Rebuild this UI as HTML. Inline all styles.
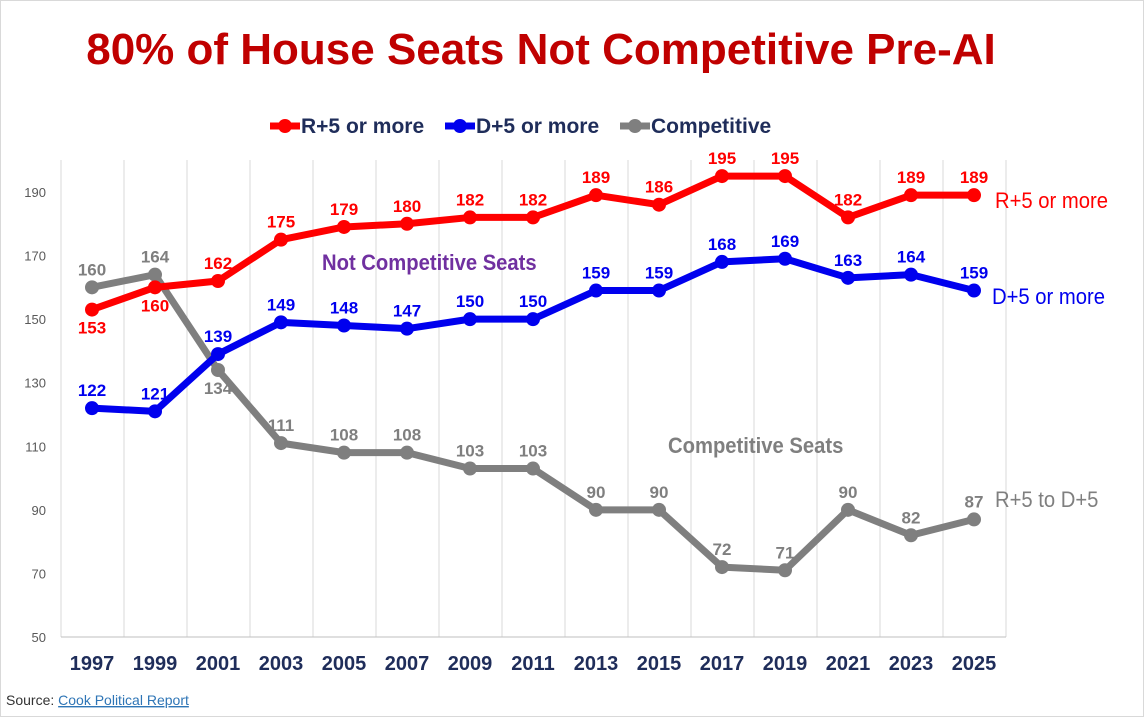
<!DOCTYPE html>
<html><head><meta charset="utf-8"><style>
body{margin:0;background:#fff;}
svg text{font-family:"Liberation Sans Narrow","Liberation Sans",sans-serif;}
.cond{transform-box:fill-box;transform-origin:left center;transform:scaleX(0.92);}
</style></head><body>
<svg id="c" width="1144" height="717" xmlns="http://www.w3.org/2000/svg">
<rect x="0.5" y="0.5" width="1143" height="716" fill="#fff" stroke="#d9d9d9"/>
<text x="541" y="64" text-anchor="middle" font-size="44" font-weight="bold" fill="#c00000" style="font-family:'Liberation Sans',sans-serif">80% of House Seats Not Competitive Pre-AI</text>
<g id="legend"></g>
<g id="grid"></g><g id="plot"></g>
<text x="6" y="705" font-size="14" fill="#333">Source: <tspan fill="#2e75b6" text-decoration="underline">Cook Political Report</tspan></text>
</svg>
<script>
const years=["1997","1999","2001","2003","2005","2007","2009","2011","2013","2015","2017","2019","2021","2023","2025"];
const rVals=[153,160,162,175,179,180,182,182,189,186,195,195,182,189,189];
const dVals=[122,121,139,149,148,147,150,150,159,159,168,169,163,164,159];
const cVals=[160,164,134,111,108,108,103,103,90,90,72,71,90,82,87];
const yTicks=[50,70,90,110,130,150,170,190];
const ns="http://www.w3.org/2000/svg";
const X=i=>92+i*63;
const Y=v=>637-(v-50)*(445/140);
function mk(t,a,p){const e=document.createElementNS(ns,t);for(const k in a)e.setAttribute(k,a[k]);p.appendChild(e);return e;}
const g=document.getElementById('grid'),p=document.getElementById('plot'),lg=document.getElementById('legend');
for(let i=0;i<=years.length;i++){const l=mk('line',{x1:61+i*63,x2:61+i*63,y1:160,y2:637,stroke:'#d9d9d9'},g);

}
const ax=mk('line',{x1:61,x2:1006,y1:637,y2:637,stroke:'#bfbfbf'},g);


yTicks.forEach(v=>{const t=mk('text',{x:46,y:Y(v)+5,'text-anchor':'end','font-size':13,fill:'#595959'},g);t.textContent=v;

});
years.forEach((y,i)=>{const t=mk('text',{x:X(i),y:670,'text-anchor':'middle','font-size':20,'font-weight':'bold',fill:'#1f2d5a'},g);t.textContent=y;

});
function series(vals,col,name,below){
 const pts=vals.map((v,i)=>X(i)+','+Y(v)).join(' ');
 const l=mk('polyline',{points:pts,fill:'none',stroke:col,'stroke-width':7,'stroke-linejoin':'round'},p);
 
 
 vals.forEach((v,i)=>{const c=mk('circle',{cx:X(i),cy:Y(v),r:7,fill:col},p);
 
 
 const b=below.includes(i);
 const t=mk('text',{x:X(i),y:b?Y(v)+24:Y(v)-12,'text-anchor':'middle','font-size':17,'font-weight':'bold',fill:col},p);t.textContent=v;
 
 });
}
series(cVals,'#7f7f7f','competitive',[2]);
series(dVals,'#0000ee','d5',[]);
series(rVals,'#ff0000','r5',[0,1]);
function lab(x,y,s,col,size,w,n){const t=mk('text',{x:x,y:y,'font-size':size,'font-weight':w,fill:col,'class':'cond'},p);t.textContent=s;

}
lab(995,208,'R+5 or more','#ff0000',22,'normal','r5-end-label');
lab(992,304,'D+5 or more','#0000ee',22,'normal','d5-end-label');
lab(995,507,'R+5 to D+5','#7f7f7f',22,'normal','competitive-end-label');
lab(322,270,'Not Competitive Seats','#7030a0',22,'bold','not-competitive-annotation');
lab(668,453,'Competitive Seats','#7f7f7f',22,'bold','competitive-annotation');
[['R+5 or more','#ff0000',270],['D+5 or more','#0000ee',445],['Competitive','#7f7f7f',620]].forEach(([s,c,x])=>{
 const l=mk('line',{x1:x,x2:x+30,y1:126,y2:126,stroke:c,'stroke-width':7},lg);
 
 
 const ci=mk('circle',{cx:x+15,cy:126,r:7,fill:c},lg);
 
 
 const t=mk('text',{x:x+31,y:133,'font-size':21,'font-weight':'bold',fill:'#1f2d5a'},lg);t.textContent=s;
 
 
});
</script>
</body></html>
